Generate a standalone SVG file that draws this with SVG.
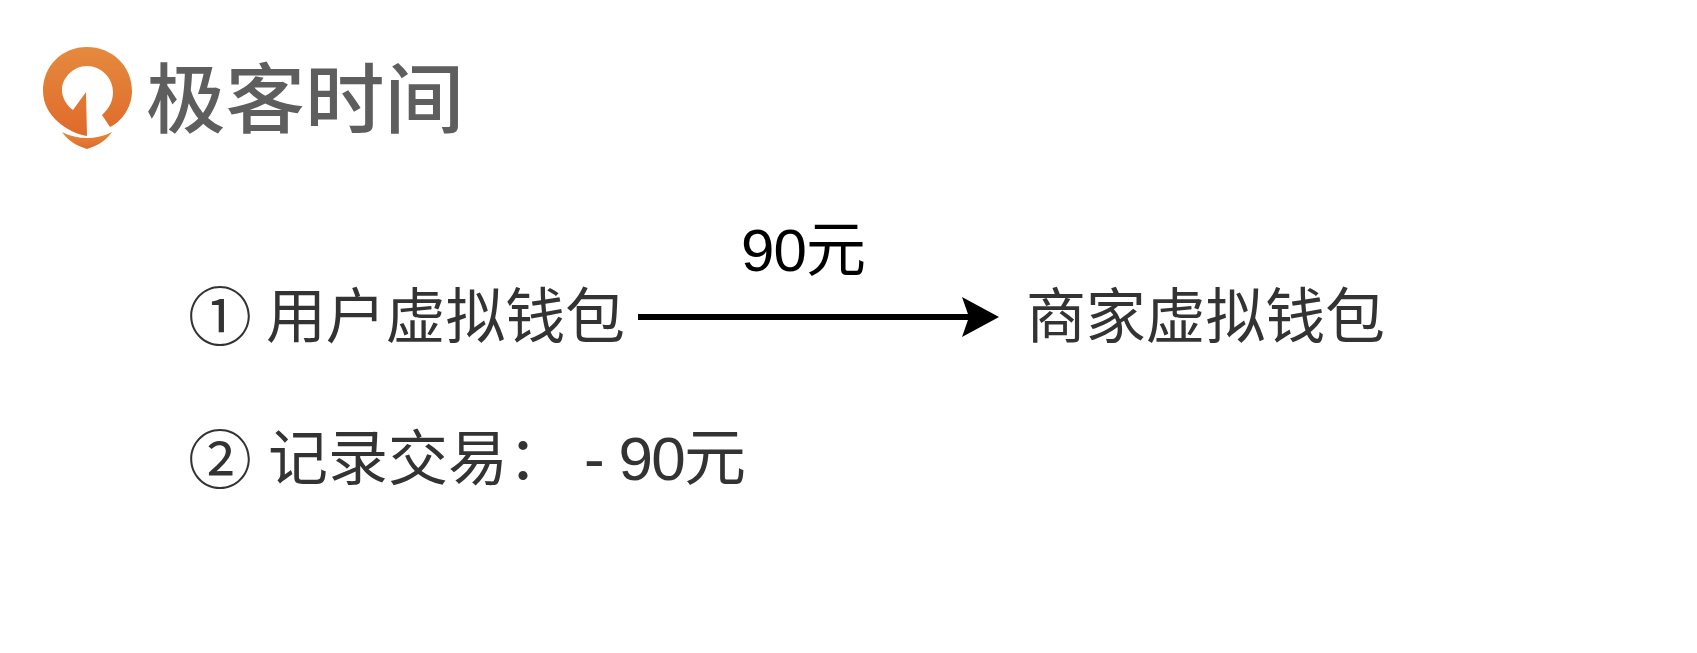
<svg xmlns="http://www.w3.org/2000/svg" width="1697" height="653" viewBox="0 0 1697 653">
<defs>
<style>
text{font-family:"Noto Sans CJK SC","Liberation Sans",sans-serif}
.l{font-size:60px;fill:#333}
.c{font-size:64px;fill:#333;font-family:"Noto Sans CJK SC",sans-serif}
.a{font-family:"Liberation Sans","Noto Sans CJK SC",sans-serif}
.n{font-size:62px;fill:#333}
</style>
<linearGradient id="g" x1="0" y1="0" x2="0" y2="1"><stop offset="0" stop-color="#e58a3e"/><stop offset="1" stop-color="#df6a2a"/></linearGradient>
<marker id="m" markerUnits="userSpaceOnUse" markerWidth="40" markerHeight="44" refX="13" refY="20" orient="auto"><path d="M0 0L37 20L0 40L7 20Z" fill="#000"/></marker>
</defs>
<rect width="1697" height="653" fill="#fff"/>
<g id="logo">
<path fill="url(#g)" fill-rule="evenodd" d="M87 47C112 47 132 66 132 91C132 108 121 122 110 127L102 115C110 108 113 100 113 92C113 78 101 66 87 66C73 66 62 78 62 90C62 97 66 105 73 110L86 92L87 136C68 133 43 116 43 91C43 66 62 47 87 47Z"/>
<path fill="url(#g)" d="M62 132C78 140 96 140 112 132C105 142 96 146 87 149C78 146 69 142 62 132Z"/>
<text x="146" y="127" font-size="76" font-weight="500" fill="#5e5e5e" textLength="318" lengthAdjust="spacingAndGlyphs">极客时间</text>
</g>
<g id="connectors"><line x1="638" y1="317" x2="975" y2="317" stroke="#000" stroke-width="6" marker-end="url(#m)"/></g>
<g id="node-user"><text class="c" x="188" y="340">①</text><text class="l" x="266" y="338" textLength="359">用户虚拟钱包</text></g>
<g id="node-merchant"><text class="l" x="1026" y="338" textLength="359">商家虚拟钱包</text></g>
<g id="label-amount"><text class="a" x="741" y="271" font-size="60" fill="#000" textLength="125">90元</text></g>
<g id="node-record"><text class="c" x="188" y="483">②</text><text class="l" x="268" y="480">记录交易：</text><text class="a n" x="584" y="480" textLength="162">- 90元</text></g>
</svg>
